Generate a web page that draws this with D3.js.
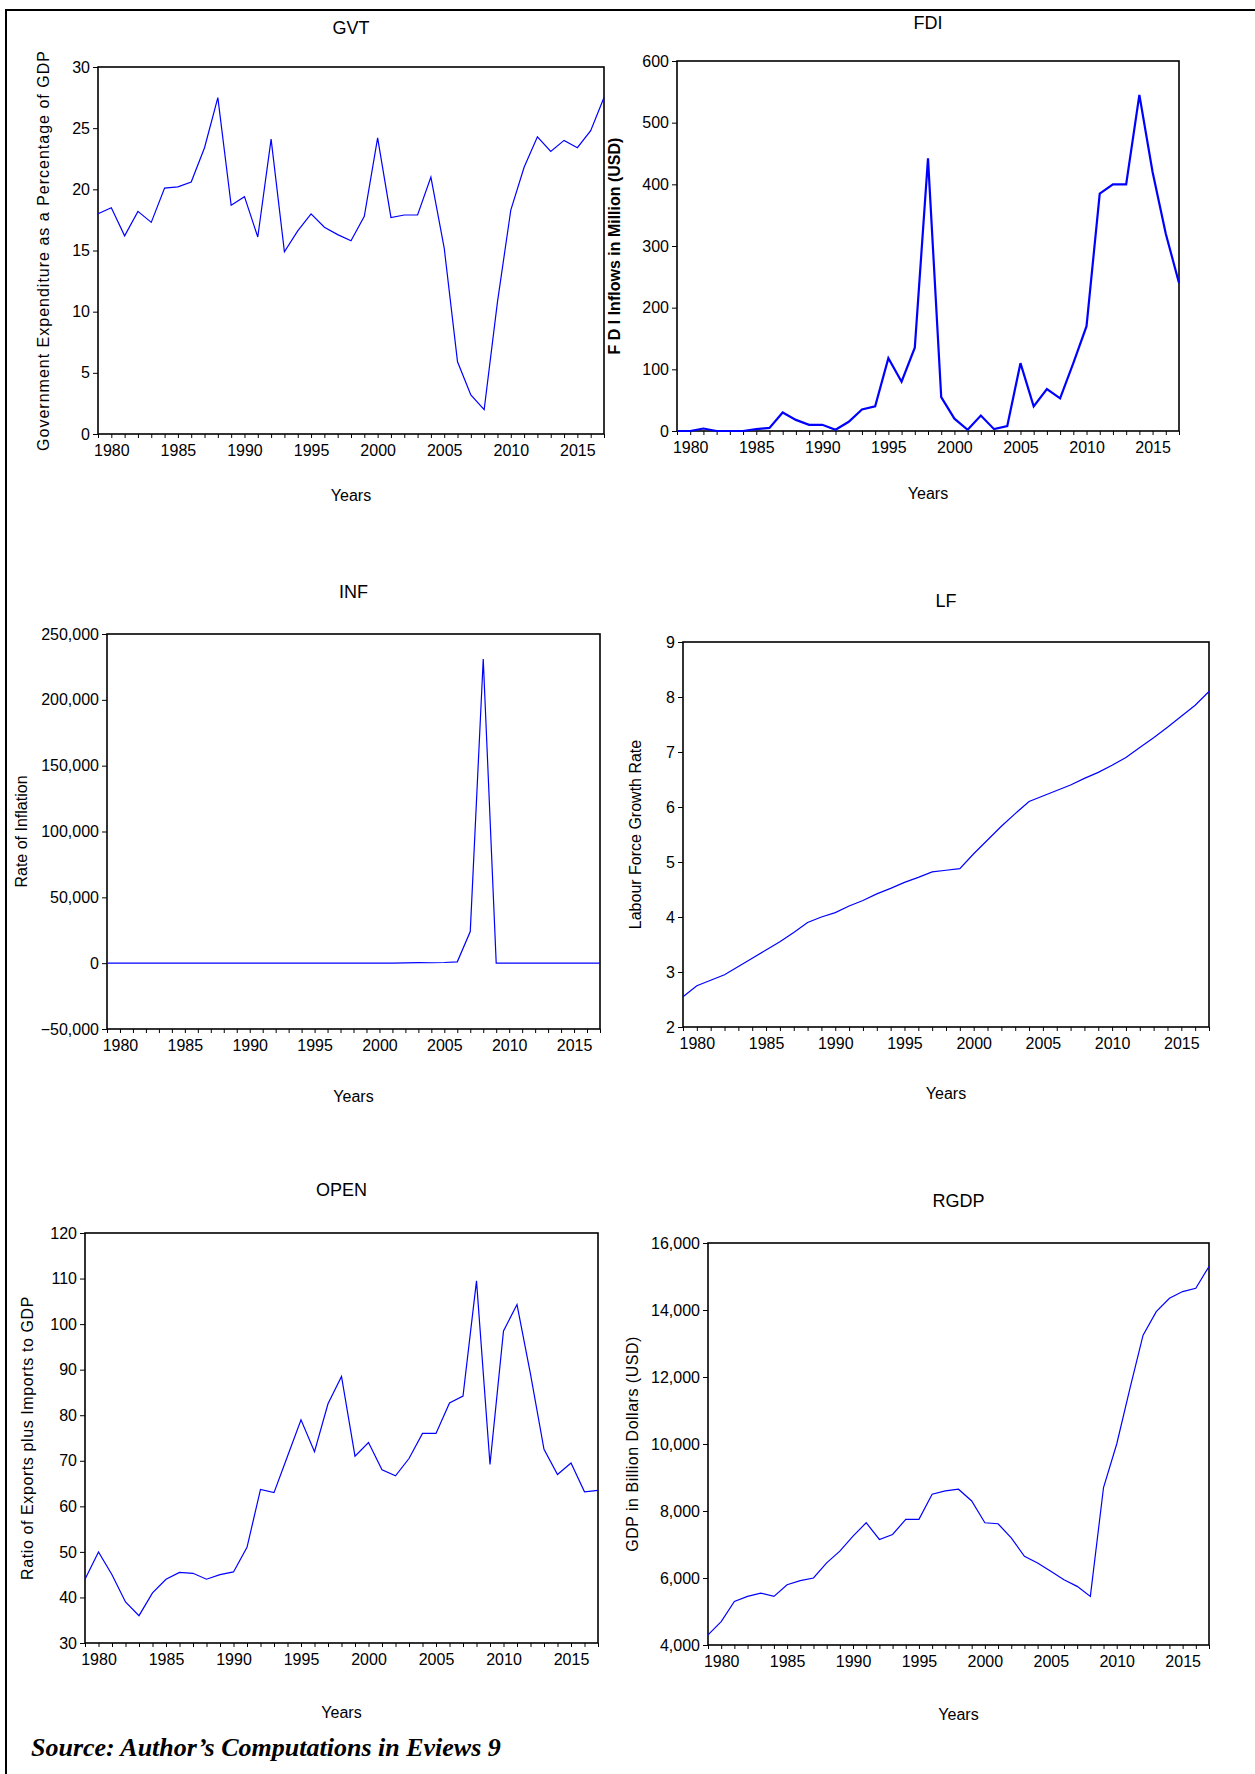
<!DOCTYPE html>
<html><head><meta charset="utf-8">
<script src="https://cdn.jsdelivr.net/npm/d3@7"></script>
<style>body{margin:0;background:#fff}svg{display:block;font-family:"Liberation Sans",Arial,sans-serif}</style>
</head><body><svg id="c" width="1255" height="1774"></svg>
<script>
const years = d3.range(1979, 2018);
const gvt = [18,18.5,16.2,18.2,17.3,20.1,20.2,20.6,23.4,27.5,18.7,19.4,16.1,24.1,14.9,16.6,18,16.9,16.3,15.8,17.8,24.2,17.7,17.9,17.9,21,15.2,5.9,3.2,2,10.8,18.3,21.8,24.3,23.1,24,23.4,24.8,27.5];
const fdi = [0,0,4,0,0,0,3,5,30,18,10,10,2,15,35,40,118,80,135,442,55,20,2,25,3,8,110,40,68,53,110,170,385,400,400,545,420,320,240];
const inf = [0,0,0,0,0,0,0,0,0,0,0,0,0,0,0,0,0,0,0,0,0,50,100,150,350,300,500,1000,24000,231000,0,0,0,0,0,0,0,0,0];
const lf = [2.55,2.75,2.85,2.95,3.1,3.25,3.4,3.55,3.72,3.9,4,4.08,4.2,4.3,4.42,4.52,4.63,4.72,4.82,4.85,4.88,5.15,5.4,5.65,5.88,6.1,6.2,6.3,6.4,6.52,6.63,6.76,6.9,7.08,7.26,7.45,7.65,7.85,8.1];
const open = [44,50,45,39,36,41,44,45.5,45.3,44,45,45.6,51,63.7,63,71,79,72,82.5,88.5,71,74,68,66.7,70.5,76,76,82.7,84.2,109.5,69.2,98.5,104.3,89,72.5,67,69.5,63.2,63.5];
const rgdp = [4300,4700,5300,5450,5550,5450,5800,5920,6000,6450,6800,7250,7650,7150,7300,7750,7750,8500,8600,8650,8300,7650,7620,7200,6650,6450,6200,5950,5750,5450,8700,10000,11650,13250,13950,14350,14550,14650,15300];
const yearTicks = [1980,1985,1990,1995,2000,2005,2010,2015];

const svg = d3.select("#c");
svg.append("rect").attr("x",6).attr("y",10).attr("width",1260).attr("height",1800)
  .attr("fill","none").attr("stroke","#000").attr("stroke-width",2);

const panels = [
  {title:"GVT", data:gvt, l:98,r:604,t:67,b:434, dom:[0,30], ticks:d3.range(0,31,5), fmt:d3.format("d"), ylab:"Government Expenditure as a Percentage of GDP", ty:34, yy:501, lx:49, sw:1.2, ls:1},
  {title:"FDI", data:fdi, l:677,r:1179,t:61,b:431, dom:[0,600], ticks:d3.range(0,601,100), fmt:d3.format("d"), ylab:"F D I Inflows in Million (USD)", ty:29, yy:499, lx:620, sw:2.2, bold:true},
  {title:"INF", data:inf, l:107,r:600,t:634,b:1029, dom:[-50000,250000], ticks:d3.range(-50000,250001,50000), fmt:d3.format(","), ylab:"Rate of Inflation", ty:598, yy:1102, lx:27, sw:1.2},
  {title:"LF", data:lf, l:683,r:1209,t:642,b:1027, dom:[2,9], ticks:d3.range(2,10), fmt:d3.format("d"), ylab:"Labour Force Growth Rate", ty:607, yy:1099, lx:641, sw:1.2},
  {title:"OPEN", data:open, l:85,r:598,t:1233,b:1643, dom:[30,120], ticks:d3.range(30,121,10), fmt:d3.format("d"), ylab:"Ratio of Exports plus Imports to GDP", ty:1196, yy:1718, lx:33, sw:1.2, ls:0.6},
  {title:"RGDP", data:rgdp, l:708,r:1209,t:1243,b:1645, dom:[4000,16000], ticks:d3.range(4000,16001,2000), fmt:d3.format(","), ylab:"GDP in Billion Dollars (USD)", ty:1207, yy:1720, lx:638, sw:1.2, ls:0.5}
];

panels.forEach(p => {
  const x = d3.scaleLinear().domain([1979,2017]).range([p.l,p.r]);
  const y = d3.scaleLinear().domain(p.dom).range([p.b,p.t]);
  const g = svg.append("g");
  const cx = (p.l+p.r)/2;
  g.append("text").attr("x",cx).attr("y",p.ty).attr("text-anchor","middle").attr("font-size",18).text(p.title);
  g.append("text").attr("x",cx).attr("y",p.yy).attr("text-anchor","middle").attr("font-size",16).text("Years");
  g.append("text").attr("transform",`translate(${p.lx},${(p.t+p.b)/2}) rotate(-90)`)
    .attr("text-anchor","middle").attr("font-size",16).attr("letter-spacing",p.ls||0)
    .attr("font-weight",p.bold?"bold":null).text(p.ylab);
  g.append("g").attr("transform",`translate(0,${p.b})`)
    .call(d3.axisBottom(x).tickValues(years).tickSize(4).tickFormat(d => yearTicks.includes(d) ? d : ""))
    .call(a => a.selectAll("text").attr("font-size",16).attr("dy","0.95em"))
    .call(a => a.select(".domain").remove());
  g.append("g").attr("transform",`translate(${p.l},0)`)
    .call(d3.axisLeft(y).tickValues(p.ticks).tickSize(5).tickFormat(p.fmt))
    .call(a => a.selectAll("text").attr("font-size",16))
    .call(a => a.select(".domain").remove());
  g.append("rect").attr("x",p.l).attr("y",p.t).attr("width",p.r-p.l).attr("height",p.b-p.t)
    .attr("fill","none").attr("stroke","#000").attr("stroke-width",1.6);
  g.append("path").datum(p.data).attr("fill","none").attr("stroke","#0000ff").attr("stroke-width",p.sw)
    .attr("d", d3.line().x((d,i)=>x(years[i])).y(d=>y(d)));
});

svg.append("text").attr("x",31).attr("y",1756).attr("font-family","'Liberation Serif',serif")
  .attr("font-size",26).attr("font-weight","bold").attr("font-style","italic")
  .text("Source: Author’s Computations in Eviews 9");
</script></body></html>
